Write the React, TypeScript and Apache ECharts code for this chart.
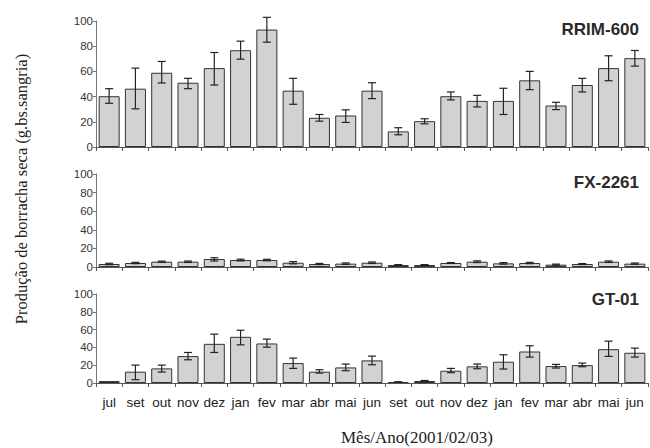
import React, { useEffect, useRef } from "react";
import * as echarts from "echarts";

const categories = ["jul", "set", "out", "nov", "dez", "jan", "fev", "mar", "abr", "mai", "jun", "set", "out", "nov", "dez", "jan", "fev", "mar", "abr", "mai", "jun"];
const yTicks = [0, 20, 40, 60, 80, 100];

const rrimValues = [40.3, 46.3, 58.9, 51, 62.6, 76.8, 93.2, 44.7, 23.2, 25, 44.7, 12.4, 20.5, 40.3, 36.6, 36.6, 52.9, 32.9, 49.2, 62.6, 70.5];
const rrimLow = [34.7, 30.3, 50.8, 46.3, 49.2, 69.7, 83.2, 33.9, 20.5, 19.5, 38.4, 9.7, 18.4, 37.4, 31.8, 25.8, 45.5, 29.7, 43.7, 52.6, 64.2];
const rrimHigh = [46.3, 62.6, 67.9, 54.5, 75, 84, 102.9, 54.5, 25.8, 29.5, 51, 15.3, 22.4, 43.7, 41, 46.6, 60, 35.5, 54.5, 72.4, 76.6];

const fxValues = [3.2, 4.3, 5.7, 5.7, 8.6, 7.5, 7.5, 4.6, 3.2, 3.6, 4.6, 2.1, 2.1, 4.3, 5.7, 3.9, 4.3, 2.5, 3.2, 5.7, 3.6];
const fxLow = [2.5, 3.6, 5.0, 4.9, 6.4, 6.6, 6.7, 3.4, 2.6, 2.8, 3.8, 1.6, 1.6, 3.8, 4.8, 3.1, 3.6, 1.9, 2.7, 4.9, 2.9];
const fxHigh = [4.0, 5.0, 6.3, 6.4, 10, 8.4, 8.3, 5.8, 3.8, 4.4, 5.4, 2.6, 2.6, 4.8, 6.6, 4.7, 5.0, 3.1, 3.7, 6.5, 4.3];

const gtValues = [2.2, 12.7, 16.4, 30.2, 44, 51.9, 44.4, 22.4, 12.7, 17.5, 25.4, 1.1, 2.2, 13.8, 18.7, 23.9, 35.4, 19, 20.1, 38, 34];
const gtLow = [2.2, 3.7, 12.3, 26.1, 34.3, 42.9, 40.3, 16.4, 11.2, 13.8, 20.5, 0.8, 1.6, 11.6, 16, 15.7, 29.1, 16.8, 18.3, 29.9, 29.1];
const gtHigh = [2.2, 20.1, 20.1, 34.3, 54.9, 59.3, 49.3, 28, 14.9, 21.3, 30.2, 1.4, 2.8, 16.4, 21.3, 31.7, 41.8, 20.9, 22.4, 47, 39.2];

const panelNames = ["RRIM-600", "FX-2261", "GT-01"];
const yTitle = "Produção de borracha seca (g.bs.sangria)";
const xTitle = "Mês/Ano(2001/02/03)";

export default function App() {
  const ref = useRef<HTMLDivElement>(null);
  useEffect(() => {
    if (!ref.current) return;
    const chart = echarts.init(ref.current, null, { renderer: "svg" });
    const panels = [
      { name: panelNames[0], v: rrimValues, lo: rrimLow, hi: rrimHigh, top: 21, height: 126, titleTop: 16 },
      { name: panelNames[1], v: fxValues, lo: fxLow, hi: fxHigh, top: 174, height: 93, titleTop: 169 },
      { name: panelNames[2], v: gtValues, lo: gtLow, hi: gtHigh, top: 294, height: 89, titleTop: 286 },
    ];
    const grids = panels.map((p) => ({ left: 96, right: 2, top: p.top, height: p.height }));
    const xAxes = panels.map((p, i) => ({
      type: "category",
      gridIndex: i,
      data: categories,
      boundaryGap: true,
      axisLine: { lineStyle: { color: "#555", width: 1 } },
      axisTick: { show: true, length: 4, lineStyle: { color: "#555" } },
      axisLabel: {
        show: i === 2,
        interval: 0,
        color: "#222",
        fontFamily: "Liberation Sans, Arial",
        fontSize: 13.5,
        margin: 12,
      },
    }));
    const yAxes = panels.map((p, i) => ({
      type: "value",
      gridIndex: i,
      min: yTicks[0],
      max: yTicks[yTicks.length - 1],
      interval: 20,
      splitLine: { show: false },
      axisLine: { show: true, lineStyle: { color: "#777", width: 1 } },
      axisTick: { show: true, length: 3, lineStyle: { color: "#777" } },
      axisLabel: {
        color: "#333",
        fontFamily: "Liberation Sans, Arial",
        fontSize: 11.5,
        margin: 3,
      },
    }));
    const series: any[] = [];
    panels.forEach((p, i) => {
      series.push({
        type: "bar",
        xAxisIndex: i,
        yAxisIndex: i,
        data: p.v,
        barCategoryGap: "20%",
        itemStyle: { color: "#d2d2d2", borderColor: "#333", borderWidth: 1 },
        silent: true,
      });
      series.push({
        type: "custom",
        xAxisIndex: i,
        yAxisIndex: i,
        data: p.lo.map((l, k) => [k, l, p.hi[k]]),
        encode: { x: 0, y: [1, 2] },
        z: 10,
        renderItem: (params: any, api: any) => {
          const idx = api.value(0);
          const lo = api.value(1);
          const hi = api.value(2);
          if (hi - lo < 0.05) return null;
          const a = api.coord([idx, lo]);
          const b = api.coord([idx, hi]);
          const hw = 4;
          const style = { stroke: "#222", lineWidth: 1.2 };
          return {
            type: "group",
            children: [
              { type: "line", shape: { x1: a[0], y1: a[1], x2: b[0], y2: b[1] }, style },
              { type: "line", shape: { x1: a[0] - hw, y1: a[1], x2: a[0] + hw, y2: a[1] }, style },
              { type: "line", shape: { x1: b[0] - hw, y1: b[1], x2: b[0] + hw, y2: b[1] }, style },
            ],
          };
        },
      });
    });
    chart.setOption({
      animation: false,
      backgroundColor: "#ffffff",
      title: panels.map((p) => ({
        text: p.name,
        right: 6,
        top: p.titleTop,
        textStyle: { fontFamily: "Liberation Sans, Arial", fontWeight: "bold", fontSize: 17, color: "#2a2a2a" },
      })),
      grid: grids,
      xAxis: xAxes,
      yAxis: yAxes,
      series,
      graphic: [
        {
          type: "text",
          x: 21,
          y: 189,
          rotation: Math.PI / 2,
          style: {
            text: yTitle,
            fontFamily: "Liberation Serif, Times New Roman",
            fontSize: 16.5,
            fill: "#222",
            align: "center",
            verticalAlign: "middle",
          },
        },
        {
          type: "text",
          x: 417,
          y: 437,
          style: {
            text: xTitle,
            fontFamily: "Liberation Serif, Times New Roman",
            fontSize: 17,
            fill: "#222",
            align: "center",
            verticalAlign: "middle",
          },
        },
      ],
    });
    return () => chart.dispose();
  }, []);
  return <div ref={ref} style={{ position: "fixed", left: 0, top: 0, width: 650, height: 448 }} />;
}
